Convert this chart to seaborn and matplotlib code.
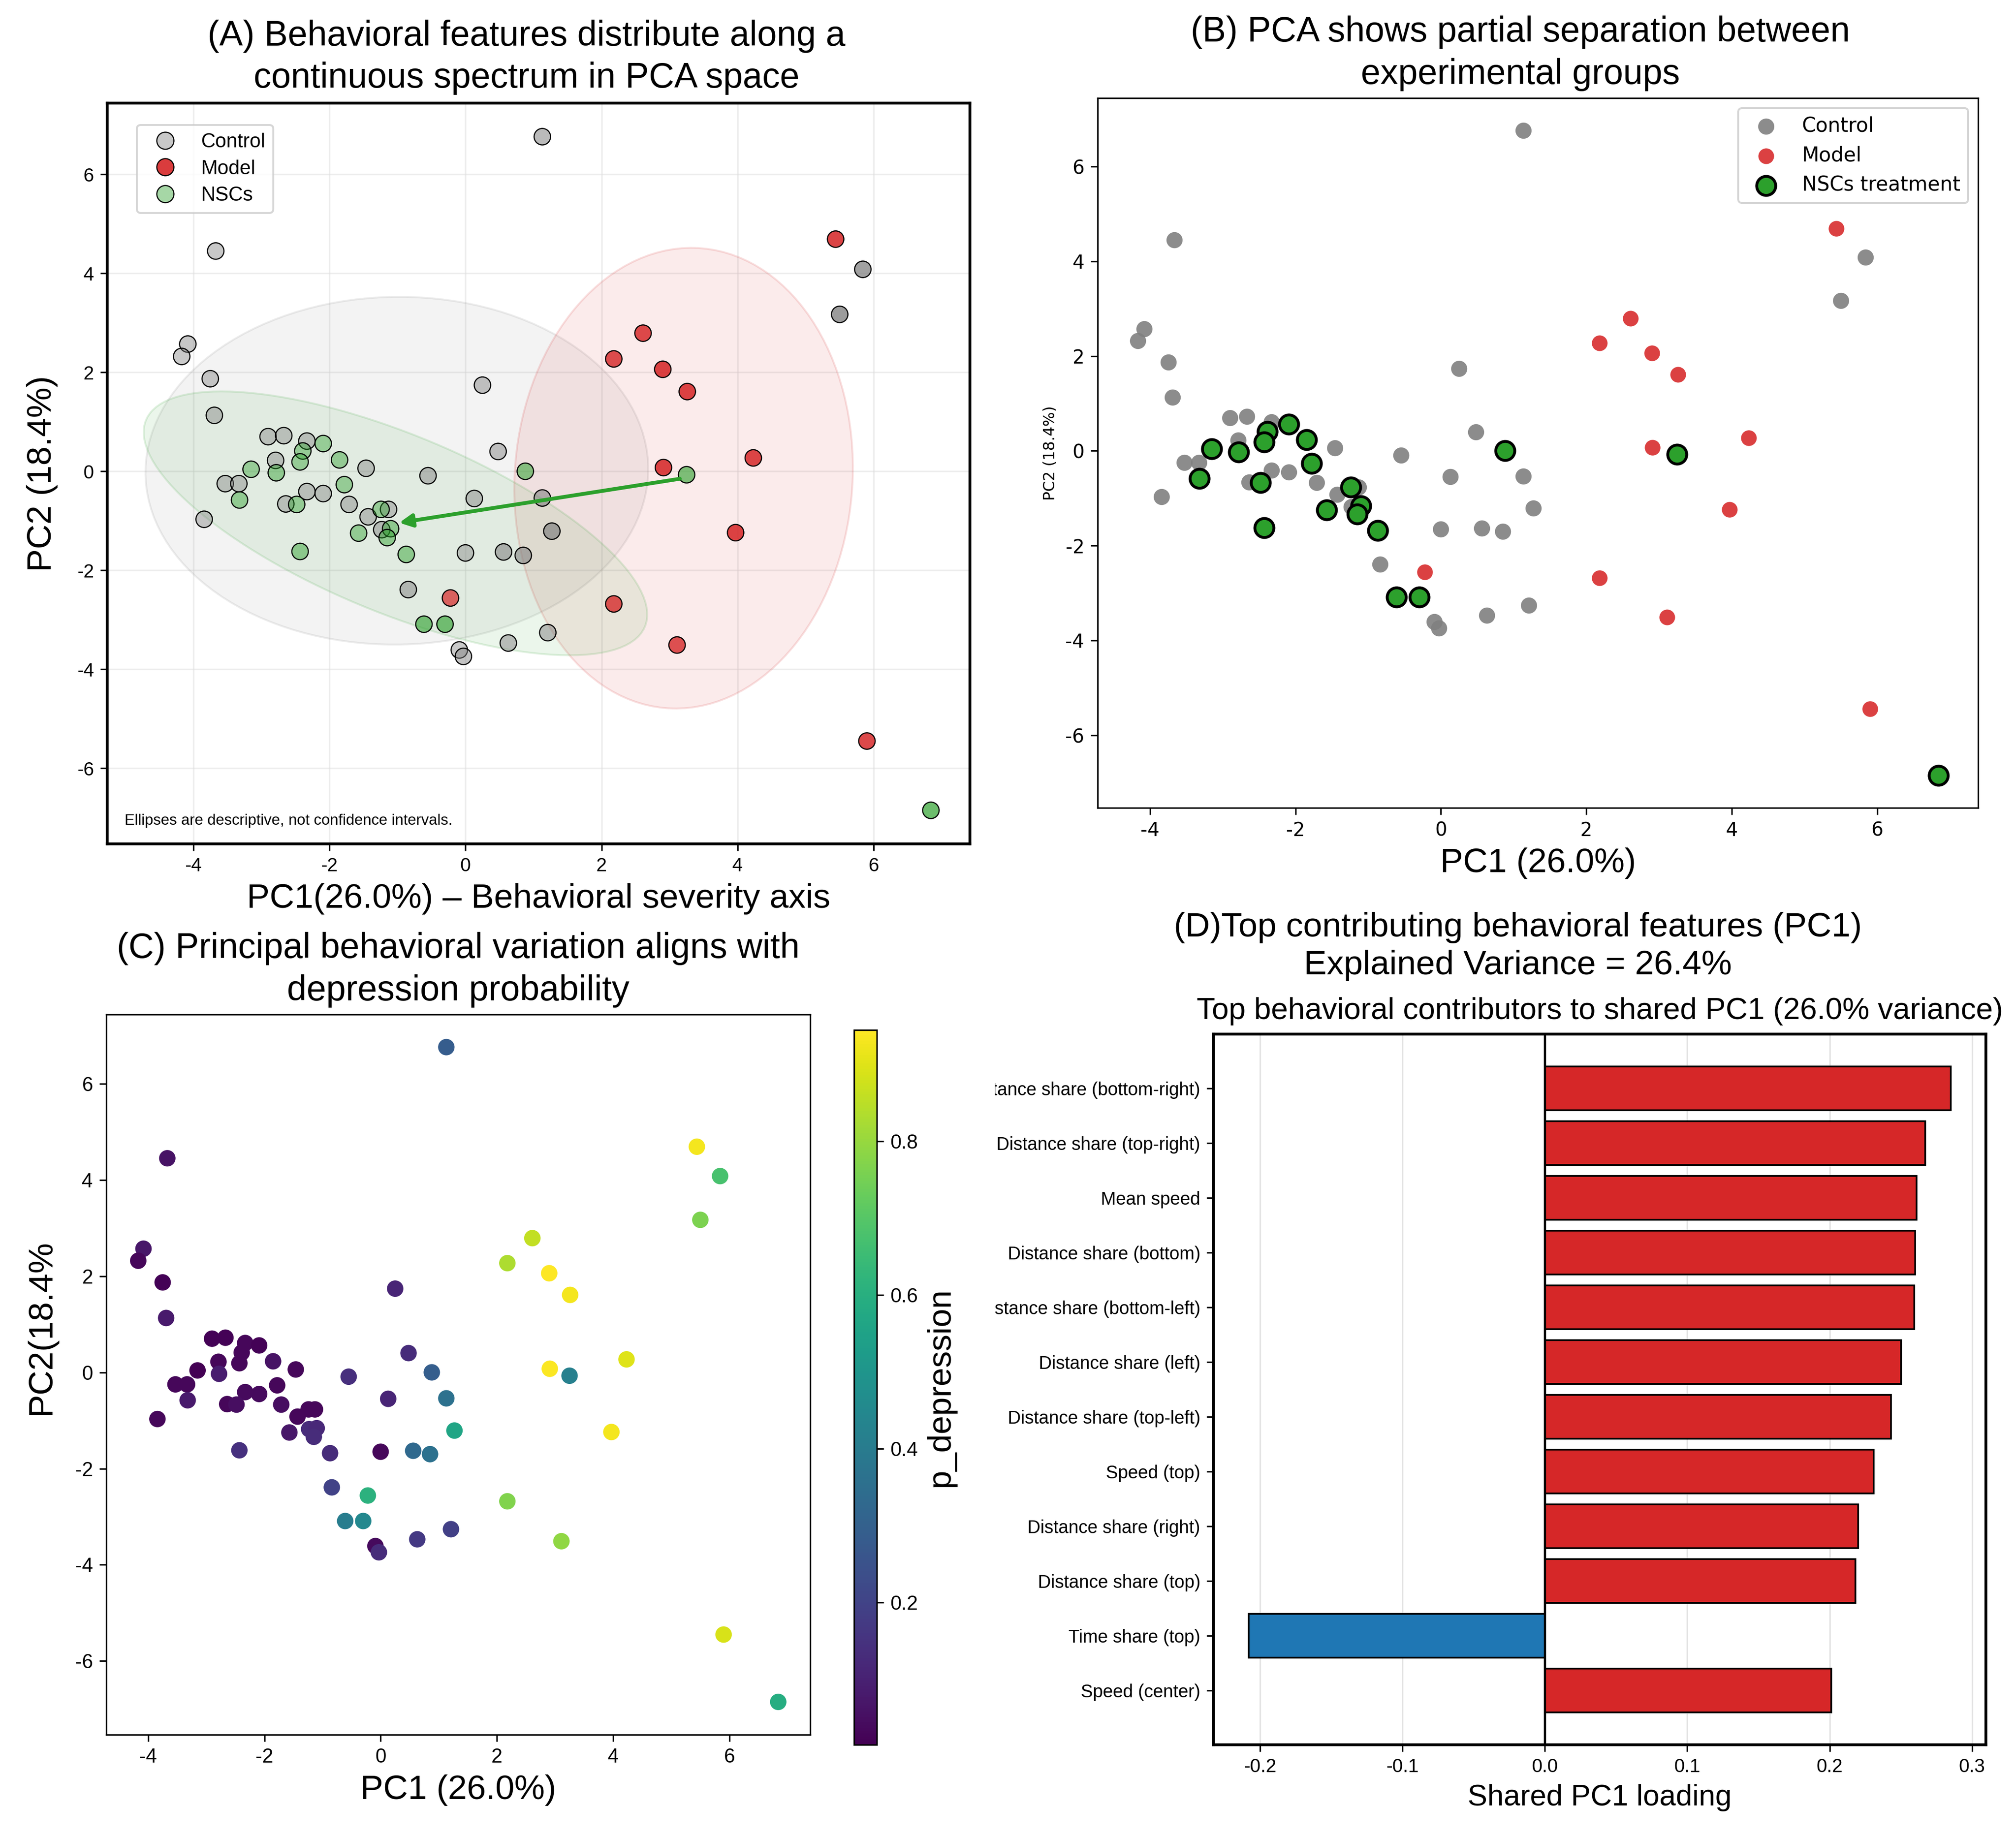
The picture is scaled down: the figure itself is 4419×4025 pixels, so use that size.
import numpy as np
import pandas as pd
import matplotlib
matplotlib.use("Agg")
import matplotlib.pyplot as plt
import seaborn as sns
from matplotlib.patches import Ellipse
from matplotlib.lines import Line2D
from matplotlib.colors import to_rgb
from matplotlib.transforms import Bbox, TransformedBbox

plt.rcParams["font.family"] = ["Liberation Sans", "DejaVu Sans"]
plt.rcParams["axes.unicode_minus"] = False

###-------DATA (PCA scores)------###

ctrl_pc1 = [-3.69, -2.90, -2.67, -2.33, -2.79, -1.46, -0.55, 0.48, -3.53, -3.33,
            -2.33, -2.09, -2.64, -1.71, -1.43, -1.13, -1.23, -3.84, 0.13, 1.13,
            1.27, 0.00, 0.56, 0.85, -0.84, -0.09, -0.03, 0.63, 1.21, 1.13,
            -3.67, -4.08, -4.17, -3.75, 0.25, 5.50, 5.84]
ctrl_pc2 = [1.13, 0.70, 0.72, 0.61, 0.22, 0.06, -0.09, 0.40, -0.25, -0.25,
            -0.41, -0.45, -0.66, -0.67, -0.92, -0.77, -1.18, -0.97, -0.55, -0.54,
            -1.21, -1.65, -1.63, -1.70, -2.39, -3.61, -3.74, -3.47, -3.26, 6.76,
            4.45, 2.57, 2.32, 1.87, 1.74, 3.17, 4.08]
ctrl_p = [0.08, 0.02, 0.02, 0.03, 0.03, 0.03, 0.14, 0.13, 0.03, 0.03,
          0.04, 0.04, 0.03, 0.05, 0.03, 0.03, 0.13, 0.03, 0.11, 0.36,
          0.56, 0.03, 0.33, 0.36, 0.20, 0.04, 0.13, 0.17, 0.19, 0.285,
          0.06, 0.07, 0.03, 0.02, 0.11, 0.76, 0.675]

model_pc1 = [5.44, 2.61, 2.18, 2.90, 3.26, 4.23, 2.91, 3.97, 2.18, 3.11, 5.90, -0.22]
model_pc2 = [4.69, 2.79, 2.27, 2.06, 1.61, 0.27, 0.075, -1.24, -2.68, -3.51, -5.45, -2.56]
model_p = [0.93, 0.86, 0.83, 0.945, 0.93, 0.90, 0.94, 0.93, 0.77, 0.79, 0.89, 0.61]

nsc_pc1 = [-3.15, -2.78, -2.39, -2.43, -2.09, -1.85, -1.78, -3.32, -2.48, -1.24,
           -1.10, -1.15, -1.57, -0.87, -2.43, -0.61, -0.30, 0.88, 3.25, 6.84]
nsc_pc2 = [0.04, -0.03, 0.41, 0.19, 0.56, 0.23, -0.27, -0.58, -0.67, -0.77,
           -1.16, -1.34, -1.25, -1.68, -1.62, -3.09, -3.09, 0.00, -0.07, -6.85]
nsc_p = [0.015, 0.09, 0.03, 0.03, 0.02, 0.06, 0.03, 0.08, 0.05, 0.03,
         0.12, 0.13, 0.07, 0.13, 0.145, 0.405, 0.45, 0.29, 0.415, 0.59]

group_names = ["Control", "Model", "NSCs"]

features = ["Distance share (bottom-right)", "Distance share (top-right)", "Mean speed",
            "Distance share (bottom)", "Distance share (bottom-left)", "Distance share (left)",
            "Distance share (top-left)", "Speed (top)", "Distance share (right)",
            "Distance share (top)", "Time share (top)", "Speed (center)"]
loadings = [0.285, 0.267, 0.261, 0.260, 0.2595, 0.250, 0.243, 0.231, 0.220, 0.218, -0.208, 0.201]

df = pd.concat([
    pd.DataFrame({"PC1": ctrl_pc1, "PC2": ctrl_pc2, "p_depression": ctrl_p, "group": "Control"}),
    pd.DataFrame({"PC1": model_pc1, "PC2": model_pc2, "p_depression": model_p, "group": "Model"}),
    pd.DataFrame({"PC1": nsc_pc1, "PC2": nsc_pc2, "p_depression": nsc_p, "group": "NSCs"}),
], ignore_index=True)

base_col = {"Control": "#808080", "Model": "#d62728", "NSCs": "#2ca02c"}
p_lo, p_hi = 0.015, 0.945

fig = plt.figure(figsize=(4419 / 300, 4025 / 300), dpi=300)

###-------(A) PCA with descriptive ellipses------###
axA = fig.add_axes([0.0532, 0.5403, 0.428, 0.4036])
k70 = np.sqrt(-2 * np.log(1 - 0.70))
centres = {}
for g in group_names:
    xy = df.loc[df.group == g, ["PC1", "PC2"]].values
    mu = xy.mean(axis=0)
    vals, vecs = np.linalg.eigh(np.cov(xy, rowvar=False))
    ang = np.degrees(np.arctan2(vecs[1, 1], vecs[0, 1]))
    rgb = to_rgb(base_col[g])
    axA.add_patch(Ellipse(mu, 2 * k70 * np.sqrt(vals[1]), 2 * k70 * np.sqrt(vals[0]), angle=ang,
                          facecolor=(*rgb, 0.09), edgecolor=(*rgb, 0.14), lw=1.0, zorder=1))
    centres[g] = mu

alpha_pts = 0.4 + 0.5 * df["p_depression"]
rgba = [(*to_rgb(base_col[g]), a) for g, a in zip(df["group"], alpha_pts)]
sns.scatterplot(data=df, x="PC1", y="PC2", c=rgba, s=75, edgecolor="black",
                linewidth=0.6, legend=False, ax=axA, zorder=3)
axA.annotate("", xy=centres["NSCs"], xytext=centres["Model"],
             arrowprops=dict(arrowstyle="-|>", color="#2ca02c", lw=2, mutation_scale=14), zorder=4)

axA.grid(True, color="#dcdcdc", lw=0.8, alpha=0.5)
axA.set_axisbelow(True)
handles = [Line2D([], [], ls="", marker="o", markersize=9,
                  markerfacecolor=(*to_rgb(base_col[g]), a), markeredgecolor="black",
                  markeredgewidth=0.6, label=g)
           for g, a in zip(group_names, [0.42, 0.9, 0.42])]
axA.legend(handles=handles, loc="upper left", bbox_to_anchor=(0.023, 0.984),
           fontsize=10.5, labelspacing=0.4)
axA.text(0.02, 0.022, "Ellipses are descriptive, not confidence intervals.",
         transform=axA.transAxes, fontsize=8, va="bottom")
axA.set_title("(A) Behavioral features distribute along a\ncontinuous spectrum in PCA space",
              fontsize=18.5, linespacing=1.35, pad=8, x=0.486)
axA.set_xlabel("PC1(26.0%) \u2013 Behavioral severity axis", fontsize=18)
axA.set_ylabel("PC2 (18.4%)", fontsize=18, labelpad=10)
axA.tick_params(labelsize=10)
for s in axA.spines.values():
    s.set_linewidth(1.5)

###-------(B) groups in PCA space------###
axB = fig.add_axes([0.5445, 0.5601, 0.4368, 0.3864])
sns.scatterplot(data=df[df.group == "Control"], x="PC1", y="PC2", color="gray", alpha=0.9,
                s=72, linewidth=0, label="Control", ax=axB)
sns.scatterplot(data=df[df.group == "Model"], x="PC1", y="PC2", color="#d62728", alpha=0.88,
                s=68, linewidth=0, label="Model", ax=axB)
sns.scatterplot(data=df[df.group == "NSCs"], x="PC1", y="PC2", color="#2ca02c",
                s=100, edgecolor="black", linewidth=1.5, label="NSCs treatment", ax=axB)
axB.legend(loc="upper right", prop={"family": "DejaVu Sans", "size": 10.5})
axB.set_title("(B) PCA shows partial separation between\nexperimental groups",
              fontsize=18.5, linespacing=1.35, pad=7.5, x=0.48)
axB.set_xlabel("PC1 (26.0%)", fontsize=18)
axB.set_ylabel("PC2 (18.4%)", fontsize=8, family="DejaVu Sans")
axB.set_xticks([-4, -2, 0, 2, 4, 6])
axB.set_yticks([-6, -4, -2, 0, 2, 4, 6])
axB.tick_params(labelsize=10)
for t in axB.get_xticklabels() + axB.get_yticklabels():
    t.set_family("DejaVu Sans")

###-------(C) coloured by depression probability------###
axC = fig.add_axes([0.0527, 0.0552, 0.3492, 0.3923])
sns.scatterplot(data=df, x="PC1", y="PC2", hue="p_depression", palette="viridis",
                hue_norm=(p_lo, p_hi), s=75, linewidth=0, legend=False, ax=axC)
axC.set_title("(C) Principal behavioral variation aligns with\ndepression probability",
              fontsize=18.5, linespacing=1.35, pad=7.5)
axC.set_xlabel("PC1 (26.0%)", fontsize=18)
axC.set_ylabel("PC2(18.4%", fontsize=18)
axC.yaxis.set_label_coords(-0.07, 0.566)
axC.tick_params(labelsize=10.5)
cax = fig.add_axes([0.4236, 0.0497, 0.0113, 0.3893])
sm = plt.cm.ScalarMappable(norm=plt.Normalize(p_lo, p_hi), cmap="viridis")
cb = fig.colorbar(sm, cax=cax)
cb.set_ticks([0.2, 0.4, 0.6, 0.8])
cb.ax.tick_params(labelsize=10.5)
cb.set_label("p_depression", fontsize=17.5)

###-------(D) PC1 loadings------###
axD = fig.add_axes([0.602, 0.0497, 0.383, 0.387])
sign = ["pos" if v > 0 else "neg" for v in loadings]
sns.barplot(x=loadings, y=features, hue=sign, palette={"pos": "#d62728", "neg": "#1f77b4"},
            dodge=False, saturation=1, edgecolor="black", linewidth=0.9, errorbar=None,
            legend=False, orient="h", ax=axD)
# same vertical padding as a plain barh with default 5% margins
bar_h = 0.8
pad_y = 0.05 * (len(features) - 1 + bar_h)
axD.set_ylim(len(features) - 1 + bar_h / 2 + pad_y, -bar_h / 2 - pad_y)
axD.axvline(0, color="black", lw=1.2)
axD.grid(axis="x", color="#e3e3e3", lw=0.8)
axD.set_axisbelow(True)
axD.set_xlabel("Shared PC1 loading", fontsize=15.5)
axD.set_ylabel("")
axD.set_title("Top behavioral contributors to shared PC1 (26.0% variance)", fontsize=16, pad=8)
axD.tick_params(axis="y", labelsize=9.5)
axD.tick_params(axis="x", labelsize=10)
for s in axD.spines.values():
    s.set_linewidth(1.5)
clip = TransformedBbox(Bbox([[0.4935, 0.0], [1.0, 1.0]]), fig.transFigure)
for t in axD.get_yticklabels():
    t.set_clip_on(True)
    t.set_clip_box(clip)
fig.text(0.753, 0.4845, "(D)Top contributing behavioral features (PC1)\nExplained Variance = 26.4%",
         ha="center", va="center", fontsize=18, linespacing=1.25)

fig.savefig("out.png", dpi=300)
